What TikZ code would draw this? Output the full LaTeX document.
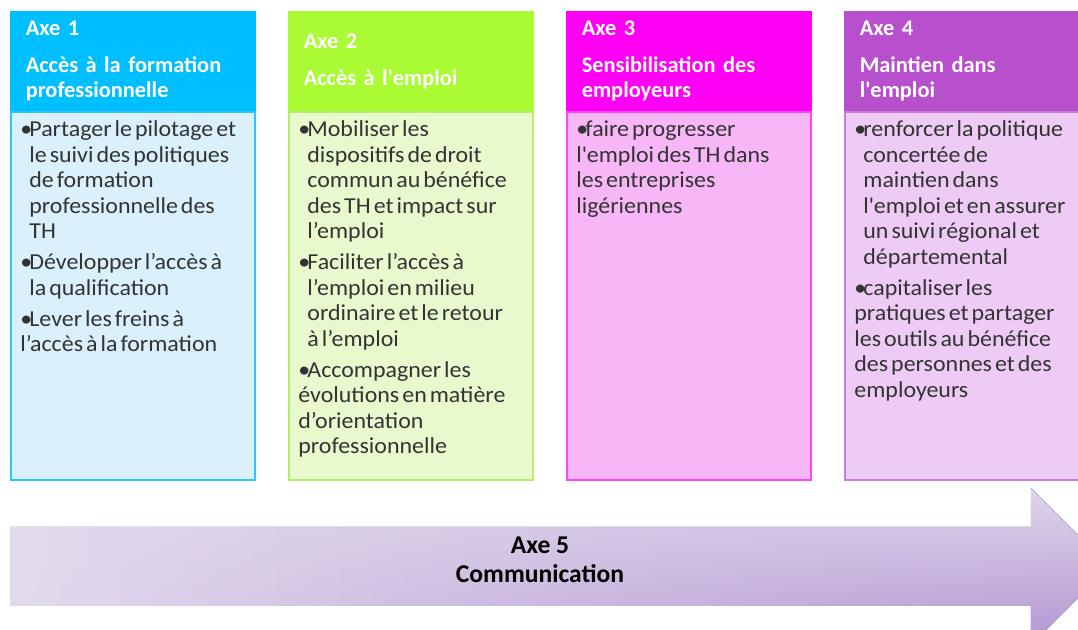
\documentclass[tikz,border=0pt]{standalone}
\usepackage{fontspec}
\setmainfont{Carlito}
\newfontfamily\corpsfont{Carlito}[FakeStretch=1.05]
\usepackage{xcolor}
\usetikzlibrary{
    calc,
    fadings,
    positioning
}

\definecolor{AxeUnHaut}{HTML}{00BFFF}
\definecolor{AxeUnBas}{HTML}{DAF0FA}
\definecolor{AxeUnBord}{HTML}{2EC4FF}
\definecolor{AxeDeuxHaut}{HTML}{AAFA34}
\definecolor{AxeDeuxBas}{HTML}{E9F9CE}
\definecolor{AxeDeuxBord}{HTML}{B6EE6C}
\definecolor{AxeTroisHaut}{HTML}{FF00F5}
\definecolor{AxeTroisBas}{HTML}{F7B6F5}
\definecolor{AxeTroisBord}{HTML}{FF44FF}
\definecolor{AxeQuatreHaut}{HTML}{B84FCC}
\definecolor{AxeQuatreBas}{HTML}{EDCBF5}
\definecolor{AxeQuatreBord}{HTML}{C77FDA}
\definecolor{FlecheGauche}{HTML}{E3DBED}
\definecolor{FlecheDroite}{HTML}{CAB8DE}
\definecolor{FlecheHaut}{HTML}{E3DCEE}
\definecolor{FlecheBas}{HTML}{AE8ECE}

\tikzfading[name=fondu droite,
    left color=transparent!100,
    right color=transparent!15]

\newlength{\pucewidth}
\setlength{\pucewidth}{4.5pt}
\newcommand{\puce}[1]{%
    \par\hangindent=\pucewidth\hangafter=1\noindent
    \makebox[\pucewidth][l]{•}#1}
\newcommand{\apos}{\textquotesingle}

\begin{document}
\begin{tikzpicture}[
    x=0.5pt,
    y=-0.5pt,
    entete/.style = {
        draw,
        rectangle,
        line width=0.75pt,
        anchor=north west,
        inner sep=0pt,
        minimum width=122pt,
        minimum height=49.5pt,
        text width=107pt,
        align=left,
        text=white,
        font=\fontsize{11.2}{12.5}\selectfont\bfseries
    },
    corps/.style = {
        draw,
        rectangle,
        line width=0.75pt,
        inner sep=0pt,
        minimum width=122pt,
        minimum height=184pt
    },
    liste/.style = {
        inner sep=0pt,
        text width=117pt,
        text=black!80,
        font=\corpsfont\fontsize{11.4}{12.75}\selectfont,
        execute at begin node={%
            \setlength{\parskip}{2.75pt}\raggedright
            \spaceskip=1.5pt plus 0.5pt\relax},
        execute at end node={\endgraf}
    },
]
    \useasboundingbox (0,0) rectangle (1078,630);

    % Axe 5 (fleche du fond)
    \def\fleche{(10,527) -- (1031,527) -- (1031,488) -- (1109.5,566.5)
        -- (1031,645) -- (1031,606) -- (10,606) -- cycle}
    \fill [left color=FlecheGauche, right color=FlecheDroite] \fleche;
    \shade [top color=FlecheHaut, bottom color=FlecheBas,
        path fading=fondu droite] \fleche;
    \node [align=center, font=\fontsize{12.8}{14.5}\selectfont\bfseries]
        (ax5_label) at (540,559.5) {Axe 5\\Communication};

    % Axe 1
    \node [entete, fill=AxeUnHaut, draw=AxeUnHaut] (ax1_head) at (10,11)
        {Axe 1\\[6pt]Accès à la formation\\professionnelle};
    \node [corps, fill=AxeUnBas, draw=AxeUnBord, below=0pt of ax1_head] (ax1_body) {};
    \node [liste, below right=-3pt and 5pt of ax1_body.north west] (ax1_items) {%
        \puce{Partager le pilotage et\newline le suivi des politiques\newline de formation\newline professionnelle des\newline TH}
        \puce{Développer l’accès à\newline la qualification}
        \puce{Lever les freins à\newline l’accès à la formation}};

    % Axe 2
    \node [entete, fill=AxeDeuxHaut, draw=AxeDeuxHaut] (ax2_head) at (288,11)
        {Axe 2\\[6pt]Accès à l\apos emploi};
    \node [corps, fill=AxeDeuxBas, draw=AxeDeuxBord, below=0pt of ax2_head] (ax2_body) {};
    \node [liste, below right=-3pt and 5pt of ax2_body.north west] (ax2_items) {%
        \puce{Mobiliser les\newline dispositifs de droit\newline commun au bénéfice\newline des TH et impact sur\newline l’emploi}
        \puce{Faciliter l’accès à\newline l’emploi en milieu\newline ordinaire et le retour\newline à l’emploi}
        \puce{Accompagner les\newline évolutions en matière\newline d’orientation\newline professionnelle}};

    % Axe 3
    \node [entete, fill=AxeTroisHaut, draw=AxeTroisHaut] (ax3_head) at (566,11)
        {Axe 3\\[6pt]Sensibilisation des\\employeurs};
    \node [corps, fill=AxeTroisBas, draw=AxeTroisBord, below=0pt of ax3_head] (ax3_body) {};
    \node [liste, below right=-3pt and 5pt of ax3_body.north west] (ax3_items) {%
        \puce{faire progresser\newline l\apos emploi des TH dans\newline les entreprises\newline ligériennes}};

    % Axe 4
    \node [entete, fill=AxeQuatreHaut, draw=AxeQuatreHaut] (ax4_head) at (844,11)
        {Axe 4\\[6pt]Maintien dans\\l\apos emploi};
    \node [corps, fill=AxeQuatreBas, draw=AxeQuatreBord, below=0pt of ax4_head] (ax4_body) {};
    \node [liste, below right=-3pt and 5pt of ax4_body.north west] (ax4_items) {%
        \puce{renforcer la politique\newline concertée de\newline maintien dans\newline l\apos emploi et en assurer\newline un suivi régional et\newline départemental}
        \puce{capitaliser les\newline pratiques et partager\newline les outils au bénéfice\newline des personnes et des\newline employeurs}};
\end{tikzpicture}
\end{document}
